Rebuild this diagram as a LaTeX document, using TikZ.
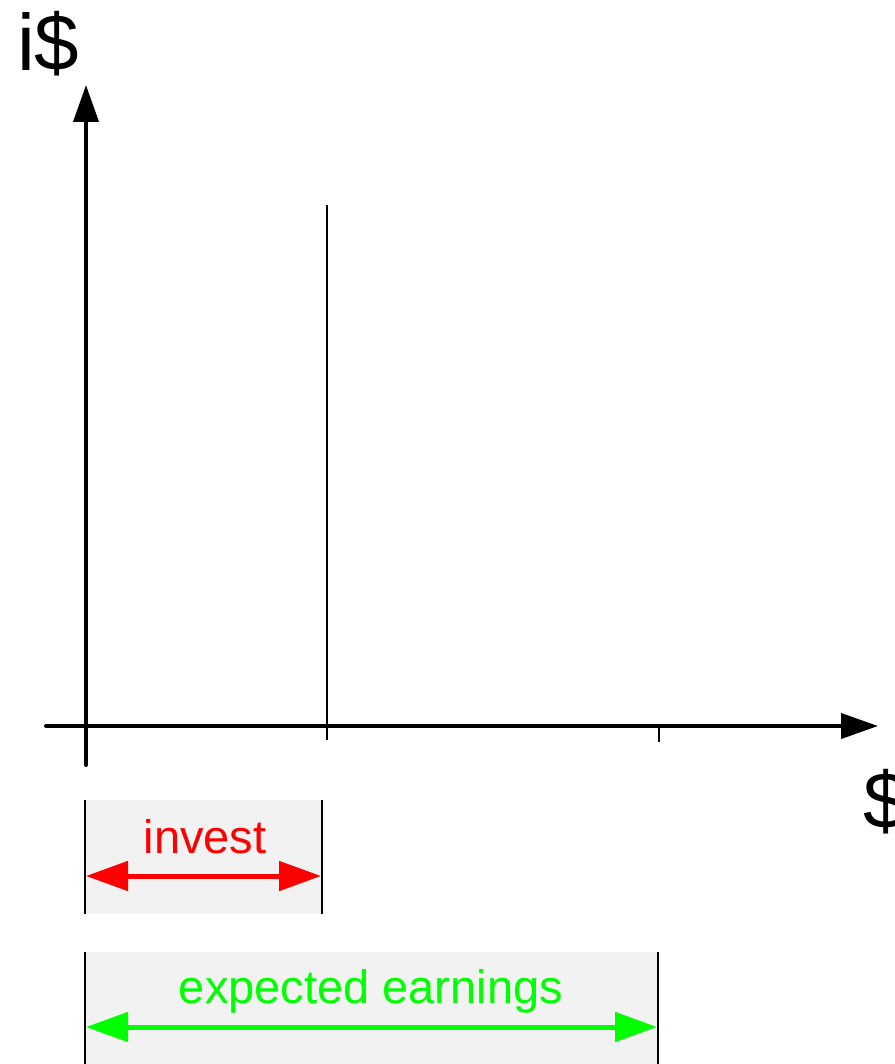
\documentclass[tikz,border=0pt]{standalone}
\usepackage{fontspec}
\setmainfont{Liberation Sans}
\usetikzlibrary{arrows.meta, positioning}

\begin{document}
\begin{tikzpicture}[x=1pt, y=-1pt]
    \tikzset{
        axis line/.style={
                line width=4pt, line cap=round, -{Triangle[length=37pt, width=25pt]}
            },
        thin mark/.style={line width=2pt},
        span arrow/.style={
                line width=5pt,
                {Triangle[length=42pt, width=29pt]}-{Triangle[length=42pt, width=29pt]}
            },
        span box/.style={fill=gray!10},
        axis label/.style={
                font=\fontsize{80}{96}\selectfont, anchor=base west, inner sep=0pt
            },
        span label/.style={
                font=\fontsize{47}{56}\selectfont, anchor=base, inner sep=0pt
            }
    }
    \useasboundingbox (0,0) rectangle (894,1064);

    % axes
    \coordinate (ybot) at (86,765);
    \coordinate (ytop) at (86,85);
    \coordinate (xleft) at (46,726);
    \coordinate (xright) at (878,726);
    \draw[axis line] (ybot) -- (ytop);
    \draw[axis line] (xleft) -- (xright);
    \node[axis label] (ylabel) at (17,71) {i\$};
    \node[axis label] (xlabel) at (863,828) {\$};

    % marks on the money axis
    \coordinate (investtop) at (327,205);
    \coordinate (investbot) at (327,740);
    \coordinate (earntop) at (659,726);
    \coordinate (earnbot) at (659,742);
    \draw[thin mark] (investtop) -- (investbot);
    \draw[thin mark] (earntop) -- (earnbot);

    % --- invest span ---
    \fill[span box] (85,800) rectangle (322,914);
    \coordinate (investL) at (86,876);
    \coordinate (investR) at (321,876);
    \draw[thin mark] (85,800) -- (85,914);
    \draw[thin mark] (322,800) -- (322,914);
    \draw[span arrow, red] (investL) -- (investR);
    \node[span label, text=red] (investlabel) at (205,853) {invest};

    % --- expected earnings span ---
    \fill[span box] (85,952) rectangle (658,1064);
    \coordinate (earnL) at (86,1027);
    \coordinate (earnR) at (657,1027);
    \draw[thin mark] (85,952) -- (85,1064);
    \draw[thin mark] (658,952) -- (658,1064);
    \draw[span arrow, green] (earnL) -- (earnR);
    \node[span label, text=green] (earnlabel) at (371,1003) {expected earnings};
\end{tikzpicture}
\end{document}
